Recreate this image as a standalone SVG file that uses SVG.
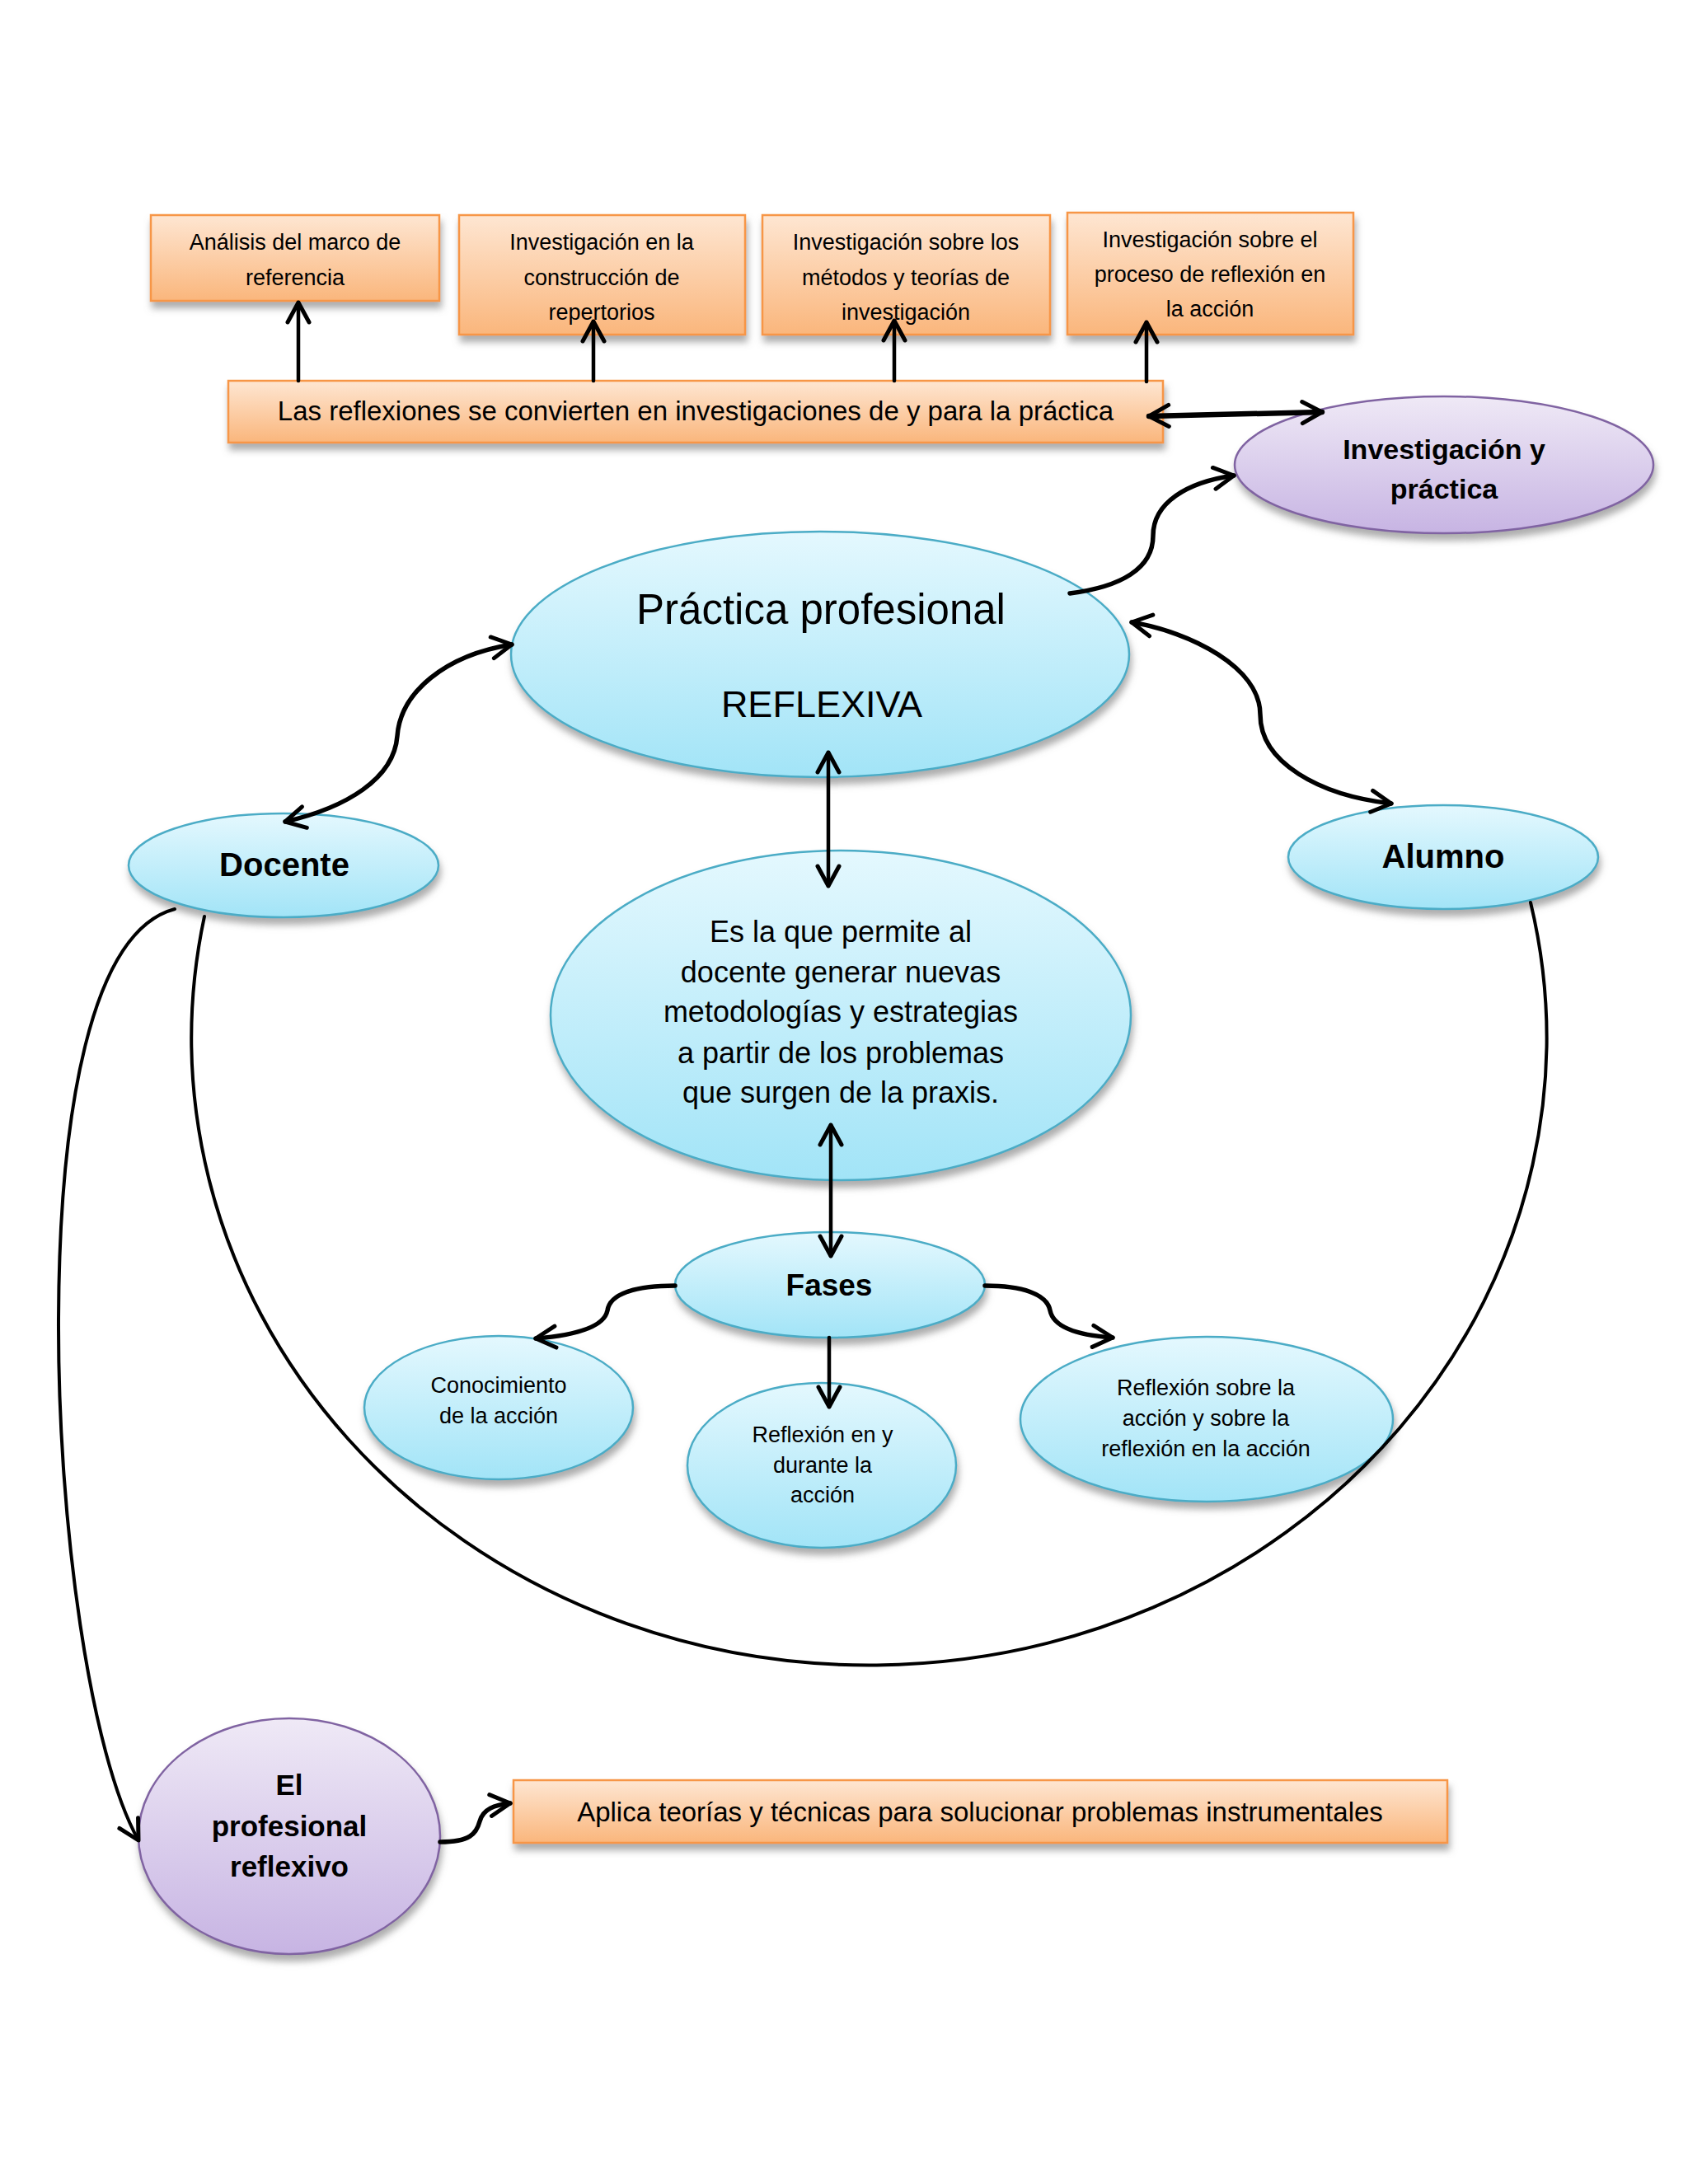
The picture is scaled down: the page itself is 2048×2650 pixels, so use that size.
<svg xmlns="http://www.w3.org/2000/svg" width="2048" height="2650" viewBox="0 0 2048 2650">
<defs>
  <linearGradient id="gOrange" x1="0" y1="0" x2="0" y2="1">
    <stop offset="0" stop-color="#fee6d2"/>
    <stop offset="1" stop-color="#fab67c"/>
  </linearGradient>
  <linearGradient id="gBlue" x1="0" y1="0" x2="0" y2="1">
    <stop offset="0" stop-color="#e4f8fe"/>
    <stop offset="1" stop-color="#a2e4f7"/>
  </linearGradient>
  <linearGradient id="gPurple" x1="0" y1="0" x2="0" y2="1">
    <stop offset="0" stop-color="#efe9f6"/>
    <stop offset="1" stop-color="#c7b4e3"/>
  </linearGradient>
  <filter id="shadow" x="-10%" y="-10%" width="120%" height="135%">
    <feGaussianBlur in="SourceAlpha" stdDeviation="4"/>
    <feOffset dx="2" dy="8" result="o"/>
    <feFlood flood-color="#777" flood-opacity="0.6"/>
    <feComposite in2="o" operator="in"/>
    <feMerge><feMergeNode/><feMergeNode in="SourceGraphic"/></feMerge>
  </filter>
  <marker id="arr" viewBox="-30 -20 40 40" markerWidth="40" markerHeight="40" refX="0" refY="0" markerUnits="userSpaceOnUse" orient="auto-start-reverse" overflow="visible">
    <path d="M-24,-13 L0,0 L-24,13" fill="none" stroke="#000" stroke-width="5" stroke-linecap="round" stroke-linejoin="round"/>
  </marker>
</defs>
<style>
  .box { fill: url(#gOrange); stroke: #f79646; stroke-width: 2.5; filter: url(#shadow); }
  .blue { fill: url(#gBlue); stroke: #4bacc6; stroke-width: 2.5; filter: url(#shadow); }
  .purple { fill: url(#gPurple); stroke: #8064a2; stroke-width: 2.5; filter: url(#shadow); }
  text { font-family: "Liberation Sans", Arial, sans-serif; fill: #000; text-anchor: middle; }
  .t27 { font-size: 27px; }
  .t33 { font-size: 33px; }
  .t36 { font-size: 36px; }
  .b { font-weight: bold; }
  .c { fill: none; stroke: #000; stroke-linecap: round; }
  .thick { stroke-width: 5.5; }
  .mid { stroke-width: 4.5; }
  .thin { stroke-width: 4; }
</style>
<rect width="2048" height="2650" fill="#fff"/>

<g id="box-analisis">
  <rect class="box" x="183" y="261" width="350" height="104"/>
  <text class="t27" x="358" y="303">Análisis del marco de</text>
  <text class="t27" x="358" y="346">referencia</text>
</g>
<g id="box-construccion">
  <rect class="box" x="557" y="261" width="347" height="145"/>
  <text class="t27" x="730" y="303">Investigación en la</text>
  <text class="t27" x="730" y="346">construcción de</text>
  <text class="t27" x="730" y="388">repertorios</text>
</g>
<g id="box-metodos">
  <rect class="box" x="925" y="261" width="349" height="145"/>
  <text class="t27" x="1099" y="303">Investigación sobre los</text>
  <text class="t27" x="1099" y="346">métodos y teorías de</text>
  <text class="t27" x="1099" y="388">investigación</text>
</g>
<g id="box-proceso">
  <rect class="box" x="1295" y="258" width="347" height="148"/>
  <text class="t27" x="1468" y="300">Investigación sobre el</text>
  <text class="t27" x="1468" y="342">proceso de reflexión en</text>
  <text class="t27" x="1468" y="384">la acción</text>
</g>
<g id="box-reflexiones">
  <rect class="box" x="277" y="462" width="1134" height="75"/>
  <text class="t33" x="844" y="510">Las reflexiones se convierten en investigaciones de y para la práctica</text>
</g>
<g id="node-investigacion">
  <ellipse class="purple" cx="1752" cy="564" rx="254" ry="83"/>
  <text class="b" font-size="34" x="1752" y="557">Investigación y</text>
  <text class="b" font-size="34" x="1752" y="605">práctica</text>
</g>
<g id="node-practica">
  <ellipse class="blue" cx="995" cy="794" rx="375" ry="149"/>
  <text font-size="51" x="996" y="757">Práctica profesional</text>
  <text font-size="45" x="997" y="870">REFLEXIVA</text>
</g>
<g id="node-docente">
  <ellipse class="blue" cx="344" cy="1050" rx="188" ry="63"/>
  <text class="b" font-size="40" x="345" y="1063">Docente</text>
</g>
<g id="node-alumno">
  <ellipse class="blue" cx="1751" cy="1040" rx="188" ry="63"/>
  <text class="b" font-size="40" x="1751" y="1053">Alumno</text>
</g>
<g id="node-central">
  <ellipse class="blue" cx="1020" cy="1232" rx="352" ry="200"/>
  <text class="t36" x="1020" y="1143">Es la que permite al</text>
  <text class="t36" x="1020" y="1192">docente generar nuevas</text>
  <text class="t36" x="1020" y="1240">metodologías y estrategias</text>
  <text class="t36" x="1020" y="1290">a partir de los problemas</text>
  <text class="t36" x="1020" y="1338">que surgen de la praxis.</text>
</g>
<g id="node-fases">
  <ellipse class="blue" cx="1007" cy="1559" rx="188" ry="64"/>
  <text class="b" font-size="37" x="1006" y="1572">Fases</text>
</g>
<g id="node-conocimiento">
  <ellipse class="blue" cx="605" cy="1708" rx="163" ry="87"/>
  <text class="t27" x="605" y="1690">Conocimiento</text>
  <text class="t27" x="605" y="1727">de la acción</text>
</g>
<g id="node-reflexion-en">
  <ellipse class="blue" cx="997" cy="1778" rx="163" ry="100"/>
  <text class="t27" x="998" y="1750">Reflexión en y</text>
  <text class="t27" x="998" y="1787">durante la</text>
  <text class="t27" x="998" y="1823">acción</text>
</g>
<g id="node-reflexion-sobre">
  <ellipse class="blue" cx="1464" cy="1722" rx="226" ry="100"/>
  <text class="t27" x="1463" y="1693">Reflexión sobre la</text>
  <text class="t27" x="1463" y="1730">acción y sobre la</text>
  <text class="t27" x="1463" y="1767">reflexión en la acción</text>
</g>
<g id="node-profesional">
  <ellipse class="purple" cx="351" cy="2228" rx="183" ry="143"/>
  <text class="b" font-size="35" x="351" y="2178">El</text>
  <text class="b" font-size="35" x="351" y="2228">profesional</text>
  <text class="b" font-size="35" x="351" y="2277">reflexivo</text>
</g>
<g id="box-aplica">
  <rect class="box" x="623" y="2160" width="1133" height="76"/>
  <text class="t33" x="1189" y="2210">Aplica teorías y técnicas para solucionar problemas instrumentales</text>
</g>

<g id="connectors">
  <path class="c mid" d="M362,462 L362,367" marker-end="url(#arr)"/>
  <path class="c mid" d="M720,462 L720,390" marker-end="url(#arr)"/>
  <path class="c mid" d="M1085,462 L1085,389" marker-end="url(#arr)"/>
  <path class="c mid" d="M1391,463 L1391,391" marker-end="url(#arr)"/>
  <path class="c" stroke-width="6.5" d="M1394,505 L1604,500" marker-start="url(#arr)" marker-end="url(#arr)"/>
  <path class="c thick" d="M1298,720 C1360,712 1399,690 1399,650 C1399,610 1440,585 1497,577" marker-end="url(#arr)"/>
  <path class="c thick" d="M346,997 C420,980 478,945 482,893 C486,840 540,795 621,782" marker-start="url(#arr)" marker-end="url(#arr)"/>
  <path class="c thick" d="M1373,755 C1445,767 1529,810 1529,867 C1529,925 1600,965 1688,975" marker-start="url(#arr)" marker-end="url(#arr)"/>
  <path class="c mid" d="M1005,913 L1005,1075" marker-start="url(#arr)" marker-end="url(#arr)"/>
  <path class="c mid" d="M1008,1365 L1008,1524" marker-start="url(#arr)" marker-end="url(#arr)"/>
  <path class="c thick" d="M819,1560 C770,1560 740,1570 737,1590 C733,1610 700,1620 650,1624" marker-end="url(#arr)"/>
  <path class="c mid" d="M1006,1623 L1006,1707" marker-end="url(#arr)"/>
  <path class="c thick" d="M1195,1560 C1240,1560 1270,1570 1274,1590 C1278,1610 1305,1620 1350,1623" marker-end="url(#arr)"/>
  <path class="c thin" d="M248,1112 A822,761 0 1 0 1857,1095"/>
  <path class="c thin" d="M212,1103 C110,1130 72,1350 71,1600 C70,1850 110,2130 168,2233" marker-end="url(#arr)"/>
  <path class="c thick" d="M534,2235 C570,2235 578,2225 582,2210 C586,2195 600,2190 619,2188" marker-end="url(#arr)"/>
</g>
</svg>
